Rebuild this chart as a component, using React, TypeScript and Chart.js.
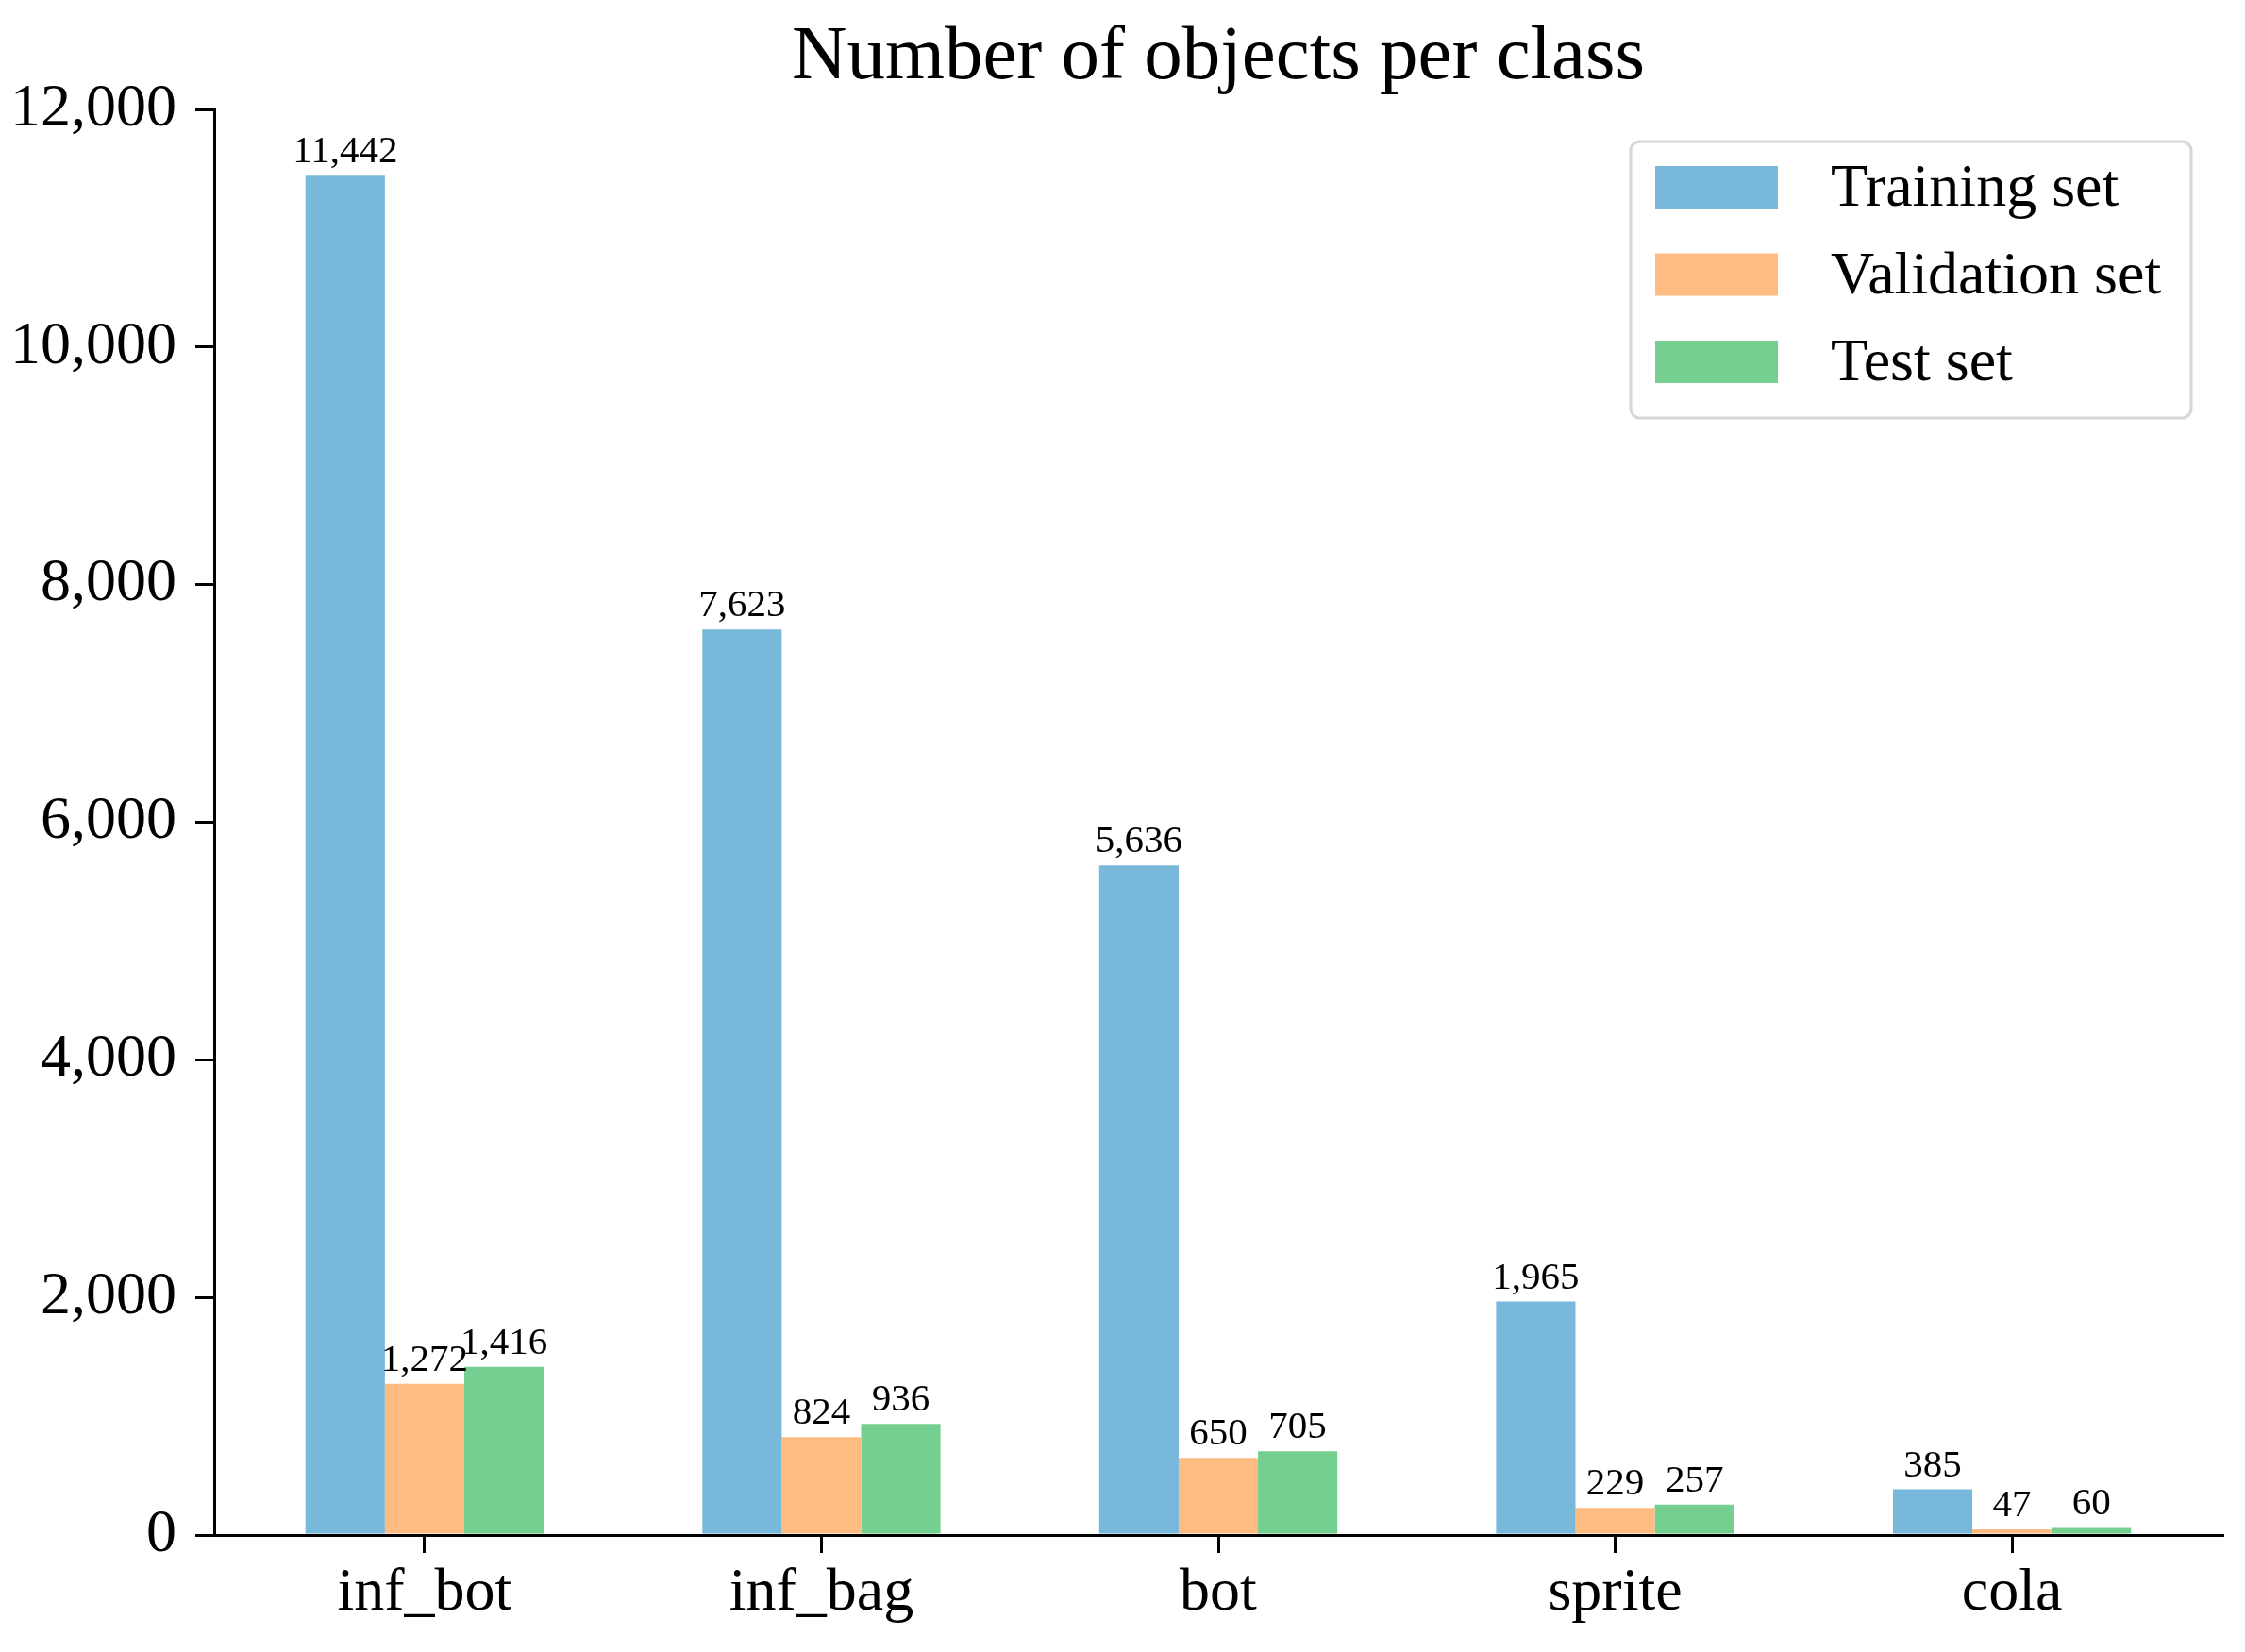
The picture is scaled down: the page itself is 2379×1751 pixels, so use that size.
import React, { useEffect, useRef } from "react";
import { Chart, registerables } from "chart.js";

Chart.register(...registerables);

const categories = ["inf_bot", "inf_bag", "bot", "sprite", "cola"];
const trainingSet = [11442, 7623, 5636, 1965, 385];
const validationSet = [1272, 824, 650, 229, 47];
const testSet = [1416, 936, 705, 257, 60];
const seriesNames = ["Training set", "Validation set", "Test set"];
const seriesColors = ["#77b8db", "#febc82", "#74cf90"];
const yTickValues = [0, 2000, 4000, 6000, 8000, 10000, 12000];
const chartTitle = "Number of objects per class";

const FONT = "'Liberation Serif', 'Times New Roman', Times, serif";

const fmt = (v: number) => v.toLocaleString("en-US");

const valueLabelsPlugin = {
  id: "valueLabels",
  afterDatasetsDraw(chart: any) {
    const ctx = chart.ctx;
    ctx.save();
    ctx.font = `41px ${FONT}`;
    ctx.fillStyle = "#000";
    ctx.textAlign = "center";
    ctx.textBaseline = "alphabetic";
    chart.data.datasets.forEach((ds: any, di: number) => {
      const meta = chart.getDatasetMeta(di);
      meta.data.forEach((el: any, i: number) => {
        const v = ds.data[i].y;
        ctx.fillText(fmt(v), el.x, el.y - 14);
      });
    });
    ctx.restore();
  },
};

const boxLegendPlugin = {
  id: "boxLegend",
  afterDraw(chart: any) {
    const ctx = chart.ctx;
    const area = chart.chartArea;
    const w = 594;
    const h = 293;
    const x = area.right - 33 - w;
    const y = area.top + 34;
    const r = 10;
    ctx.save();
    ctx.beginPath();
    ctx.moveTo(x + r, y);
    ctx.lineTo(x + w - r, y);
    ctx.arcTo(x + w, y, x + w, y + r, r);
    ctx.lineTo(x + w, y + h - r);
    ctx.arcTo(x + w, y + h, x + w - r, y + h, r);
    ctx.lineTo(x + r, y + h);
    ctx.arcTo(x, y + h, x, y + h - r, r);
    ctx.lineTo(x, y + r);
    ctx.arcTo(x, y, x + r, y, r);
    ctx.closePath();
    ctx.fillStyle = "rgba(255,255,255,0.9)";
    ctx.fill();
    ctx.lineWidth = 3;
    ctx.strokeStyle = "#d6d6d6";
    ctx.stroke();

    ctx.font = `64px ${FONT}`;
    ctx.textAlign = "left";
    ctx.textBaseline = "middle";
    chart.data.datasets.forEach((ds: any, i: number) => {
      const cy = y + 48.5 + i * 92.5;
      ctx.fillStyle = ds.backgroundColor;
      ctx.fillRect(x + 26, cy - 22.5, 130, 45);
      ctx.fillStyle = "#000";
      ctx.fillText(ds.label, x + 212, cy + 3);
    });
    ctx.restore();
  },
};

export default function App() {
  const canvasRef = useRef<HTMLCanvasElement | null>(null);

  useEffect(() => {
    if (!canvasRef.current) return;
    const seriesValues = [trainingSet, validationSet, testSet];
    const chart = new Chart(canvasRef.current, {
      type: "bar",
      data: {
        datasets: seriesValues.map((vals, si) => ({
          label: seriesNames[si],
          data: vals.map((v, i) => ({ x: i, y: v })),
          backgroundColor: seriesColors[si],
          borderWidth: 0,
          categoryPercentage: 0.6,
          barPercentage: 1.0,
        })),
      },
      options: {
        animation: false,
        responsive: false,
        devicePixelRatio: 1,
        layout: { padding: { left: 0, right: 24, top: 0, bottom: 0 } },
        plugins: {
          legend: { display: false },
          tooltip: { enabled: false },
          title: {
            display: true,
            text: chartTitle,
            fullSize: false,
            color: "#000",
            font: { family: FONT, size: 81, weight: "normal", lineHeight: 1.2 },
            padding: { top: 13, bottom: 5.8 },
          },
        },
        scales: {
          x: {
            type: "linear",
            min: -0.53,
            max: 4.53,
            offset: false,
            afterBuildTicks: (scale: any) => {
              scale.ticks = categories.map((_, i) => ({ value: i }));
            },
            afterFit: (scale: any) => {
              scale.height = 124;
            },
            grid: {
              display: true,
              offset: false,
              drawOnChartArea: false,
              drawTicks: true,
              tickLength: 19,
              tickColor: "#000",
              tickWidth: 3,
              color: "#000",
              lineWidth: 3,
            },
            border: { display: true, color: "#000", width: 3 },
            ticks: {
              color: "#000",
              padding: 5,
              maxRotation: 0,
              autoSkip: false,
              font: { family: FONT, size: 64, lineHeight: 1.2 },
              callback: (value: any) => categories[Math.round(Number(value))] ?? "",
            },
          },
          y: {
            type: "linear",
            min: 0,
            max: 12000,
            afterBuildTicks: (scale: any) => {
              scale.ticks = yTickValues.map((v) => ({ value: v }));
            },
            afterFit: (scale: any) => {
              scale.width = 227;
            },
            grid: {
              display: true,
              offset: false,
              drawOnChartArea: false,
              drawTicks: true,
              tickLength: 20,
              tickColor: "#000",
              tickWidth: 3,
              color: "#000",
              lineWidth: 3,
            },
            border: { display: true, color: "#000", width: 3 },
            ticks: {
              color: "#000",
              padding: 20,
              font: { family: FONT, size: 64, lineHeight: 1.2 },
              callback: (value: any) => fmt(Number(value)),
            },
          },
        },
      },
      plugins: [valueLabelsPlugin, boxLegendPlugin],
    } as any);
    return () => chart.destroy();
  }, []);

  return (
    <div style={{ position: "absolute", left: 0, top: 0, width: 2379, height: 1751, background: "#fff" }}>
      <canvas ref={canvasRef} width={2379} height={1751} style={{ width: 2379, height: 1751, display: "block" }} />
    </div>
  );
}
